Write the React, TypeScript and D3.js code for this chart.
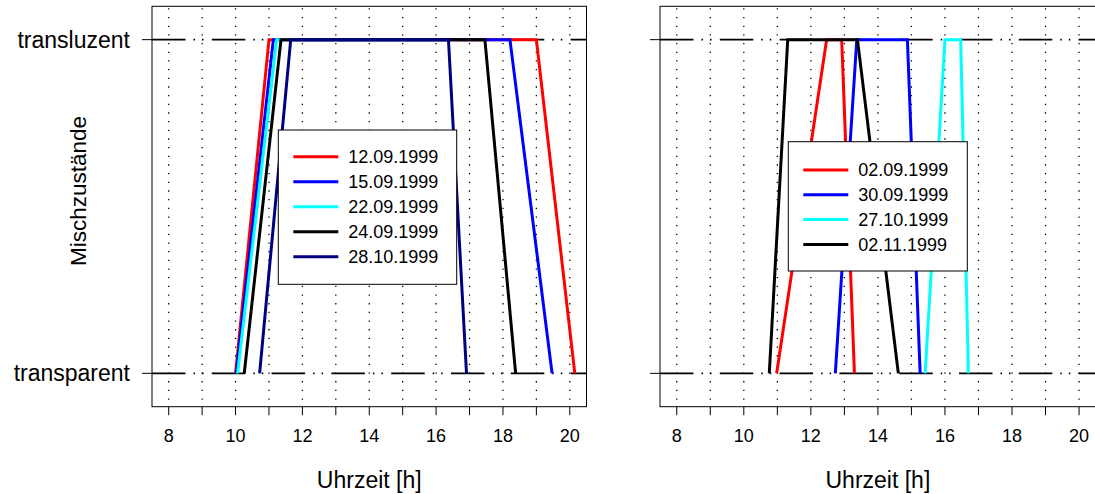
import React from "react";
import * as d3 from "d3";

// hours of the state changes per day (transparent -> transluzent -> transparent)
const leftDates = ["12.09.1999", "15.09.1999", "22.09.1999", "24.09.1999", "28.10.1999"];
const leftColors = ["#ff0000", "#0000ff", "#00ffff", "#000000", "#000080"];
const leftTimes = [
  [10.0, 11.0, 19.0, 20.15],
  [10.02, 11.13, 18.21, 19.47],
  [10.06, 11.23, 16.2],
  [10.26, 11.36, 17.46, 18.38],
  [10.72, 11.65, 16.37, 16.91],
];

const rightDates = ["02.09.1999", "30.09.1999", "27.10.1999", "02.11.1999"];
const rightColors = ["#ff0000", "#0000ff", "#00ffff", "#000000"];
const rightTimes = [
  [10.98, 12.47, 12.92, 13.3],
  [12.73, 13.37, 14.88, 15.26],
  [15.41, 16.0, 16.47, 16.7],
  [10.76, 11.31, 13.39, 14.61],
];

const states = [0, 1, 1, 0];
const stateLabels = ["transparent", "transluzent"];
const hourTicks = d3.range(8, 21);
const labelTicks = [8, 10, 12, 14, 16, 18, 20];

const FONT = "Liberation Sans, Arial, Helvetica, sans-serif";
const TOP = 6.3;
const BOTTOM = 406.7;

type PanelProps = {
  x0: number;
  x1: number;
  times: number[][];
  colors: string[];
  dates: string[];
  showYLabels: boolean;
  legend: { x: number; y: number; w: number; h: number; firstRow: number; rowGap: number };
};

const Panel = ({ x0, x1, times, colors, dates, showYLabels, legend }: PanelProps) => {
  const x = d3.scaleLinear().domain([7.5, 20.5]).range([x0, x1]);
  const y = d3.scaleLinear().domain([-0.1, 1.1]).range([BOTTOM, TOP]);
  const line = d3
    .line<number>()
    .x(d => x(d))
    .y((_, i) => y(states[i]));
  const clipId = `clip-${Math.round(x0)}`;

  return (
    <g>
      <defs>
        <clipPath id={clipId}>
          <rect x={x0} y={TOP} width={x1 - x0} height={BOTTOM - TOP} />
        </clipPath>
      </defs>
      <g clipPath={`url(#${clipId})`}>
        {hourTicks.map(h => (
          <line
            key={h}
            x1={x(h)}
            x2={x(h)}
            y1={TOP + 2}
            y2={BOTTOM}
            stroke="#000"
            strokeWidth={1.3}
            strokeDasharray="1.3 7.37"
          />
        ))}
        {[0, 1].map(s => (
          <line
            key={s}
            x1={x0}
            x2={x1}
            y1={y(s)}
            y2={y(s)}
            stroke="#000"
            strokeWidth={1.6}
            strokeDasharray="33.5 8 1.5 7 1.5 8.3"
          />
        ))}
        {times.map((t, i) => (
          <path
            key={i}
            d={line(t) || ""}
            fill="none"
            stroke={colors[i]}
            strokeWidth={3}
            strokeLinejoin="miter"
          />
        ))}
      </g>
      <rect x={x0} y={TOP} width={x1 - x0} height={BOTTOM - TOP} fill="none" stroke="#000" strokeWidth={1} />
      {hourTicks.map(h => (
        <line key={h} x1={x(h)} x2={x(h)} y1={BOTTOM} y2={BOTTOM + 8.5} stroke="#000" strokeWidth={1} />
      ))}
      {labelTicks.map(h => (
        <text key={h} x={x(h)} y={441.7} textAnchor="middle" fontSize={18} fontFamily={FONT} fill="#000">
          {h}
        </text>
      ))}
      {[0, 1].map(s => (
        <line key={s} x1={x0 - 10} x2={x0} y1={y(s)} y2={y(s)} stroke="#000" strokeWidth={1} />
      ))}
      {showYLabels &&
        [0, 1].map(s => (
          <text
            key={s}
            x={x0 - 22}
            y={y(s)}
            dy="0.35em"
            textAnchor="end"
            fontSize={23}
            fontFamily={FONT}
            fill="#000"
          >
            {stateLabels[s]}
          </text>
        ))}
      <text x={(x0 + x1) / 2} y={488} textAnchor="middle" fontSize={23} fontFamily={FONT} fill="#000">
        Uhrzeit [h]
      </text>
      <rect x={legend.x} y={legend.y} width={legend.w} height={legend.h} fill="#fff" stroke="#000" strokeWidth={1} />
      {dates.map((d, i) => {
        const ry = legend.firstRow + i * legend.rowGap;
        return (
          <g key={d}>
            <line x1={legend.x + 15} x2={legend.x + 60} y1={ry} y2={ry} stroke={colors[i]} strokeWidth={3} />
            <text x={legend.x + 70} y={ry} dy="0.35em" fontSize={18} fontFamily={FONT} fill="#000">
              {d}
            </text>
          </g>
        );
      })}
    </g>
  );
};

export default function App() {
  return (
    <svg
      width={1095}
      height={494}
      style={{ position: "absolute", left: 0, top: 0, background: "#fff" }}
    >
      <rect width={1095} height={494} fill="#fff" />
      <Panel
        x0={152}
        x1={586.5}
        times={leftTimes}
        colors={leftColors}
        dates={leftDates}
        showYLabels={true}
        legend={{ x: 278.3, y: 130, w: 178.4, h: 154.3, firstRow: 156.7, rowGap: 25 }}
      />
      <Panel
        x0={660}
        x1={1095.8}
        times={rightTimes}
        colors={rightColors}
        dates={rightDates}
        showYLabels={false}
        legend={{ x: 788.3, y: 141.7, w: 179, h: 129.3, firstRow: 170, rowGap: 24.8 }}
      />
      <text
        transform="translate(86,191) rotate(-90)"
        textAnchor="middle"
        fontSize={22.5}
        fontFamily={FONT}
        fill="#000"
      >
        Mischzustände
      </text>
    </svg>
  );
}
